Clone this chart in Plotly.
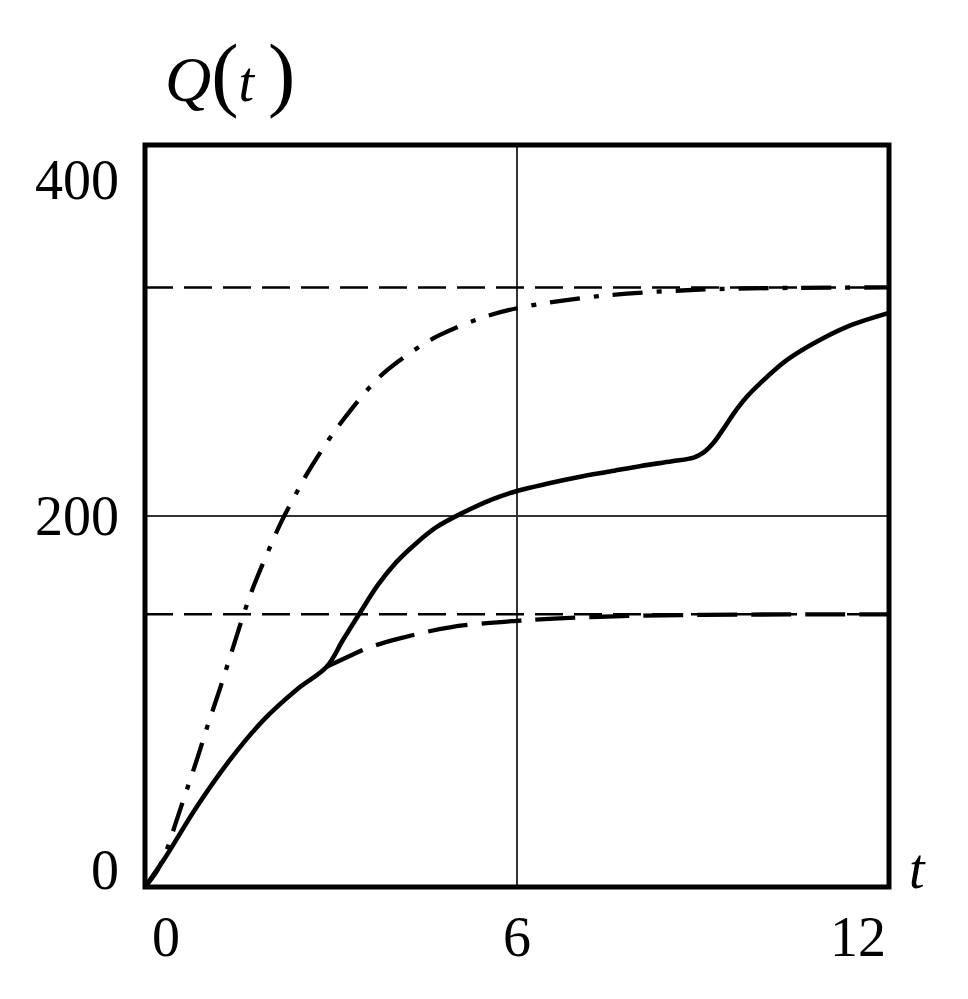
import plotly.graph_objects as go

# ---- data ----
t_solid = [0, 0.3, 0.83, 1.37, 1.91, 2.45, 2.93, 3.19, 3.47, 3.76, 4.05, 4.38, 4.7, 5.08,
           5.6, 6.0, 6.5, 7.0, 7.5, 8.0, 8.5, 8.85, 9.0, 9.17, 9.33, 9.5, 9.7, 9.92,
           10.35, 10.78, 11.32, 12.0]
q_solid = [0, 14.5, 43, 68.5, 90, 106.5, 118.7, 133, 148, 163, 175, 185.5, 194, 201,
           209, 213.5, 217.5, 221, 224, 227, 229.5, 231.5, 234, 239.5, 247, 255.5, 264, 271.5,
           284, 293, 302, 309.5]

t_dash = [2.93, 3.3, 3.57, 4.11, 4.92, 6.0, 7.34, 9.0, 12.0]
q_dash = [118.7, 124.5, 128.6, 134, 140, 143.5, 145.7, 146.7, 147]

t_dashdot = [0, 0.2, 0.35, 0.5, 0.67, 0.85, 1.0, 1.2, 1.4, 1.61, 1.75, 2.0, 2.2, 2.42,
             2.6, 2.96, 3.2, 3.6, 3.9, 4.46, 4.75, 5.4, 6.0, 7.34, 8.95, 10.5, 12.0]
q_dashdot = [0, 9, 20, 35, 52, 70, 86, 106, 127, 149, 162, 182, 197, 211,
             222, 241, 252, 268.5, 278.5, 292, 297.5, 306.5, 312, 318.6, 322, 323, 323.2]

t_span = [0, 12]
q_upper_level = 323.2
q_lower_level = 147

x_ticks = [0, 6, 12]
x_tick_labels = ["0", "6", "12"]
y_ticks = [0, 200, 400]
y_tick_labels = ["0", "200", "400"]

FONT = "Liberation Serif, Times New Roman, serif"

fig = go.Figure()

# asymptote lines
for lvl in (q_upper_level, q_lower_level):
    fig.add_trace(go.Scatter(x=t_span, y=[lvl, lvl], mode="lines",
                             line=dict(color="black", width=2.5, dash="28px,11px"),
                             hoverinfo="skip"))

fig.add_trace(go.Scatter(x=t_dash, y=q_dash, mode="lines",
                         line=dict(color="black", width=4.3, dash="40px,14px", shape="spline"),
                         hoverinfo="skip"))
fig.add_trace(go.Scatter(x=t_dashdot, y=q_dashdot, mode="lines",
                         line=dict(color="black", width=4.3, dash="30px,14px,5px,14px", shape="spline"),
                         hoverinfo="skip"))
fig.add_trace(go.Scatter(x=t_solid, y=q_solid, mode="lines",
                         line=dict(color="black", width=4.6, shape="spline"),
                         hoverinfo="skip"))

fig.update_layout(
    width=968, height=999,
    margin=dict(l=137, r=87, t=137, b=120),
    paper_bgcolor="white", plot_bgcolor="white",
    showlegend=False,
    font=dict(family=FONT, color="black"),
)
fig.update_xaxes(range=[0, 12], tickvals=[6], showticklabels=False, ticks="",
                 showgrid=True, gridcolor="#333", gridwidth=2.2, zeroline=False,
                 showline=False, fixedrange=True)
fig.update_yaxes(range=[0, 400], tickvals=[200], showticklabels=False, ticks="",
                 showgrid=True, gridcolor="#333", gridwidth=2.2, zeroline=False,
                 showline=False, fixedrange=True)

# frame
fig.add_shape(type="rect", xref="x domain", yref="y domain", x0=0, x1=1, y0=0, y1=1,
              line=dict(color="black", width=5), layer="above")

# tick labels
x_shifts = [21, 0, -31]
for v, lab, xs in zip(x_ticks, x_tick_labels, x_shifts):
    fig.add_annotation(x=v, xref="x", y=0, yref="paper", text=lab, showarrow=False,
                       xanchor="center", yanchor="middle", xshift=xs, yshift=-50,
                       font=dict(family=FONT, size=56, color="black"))
y_shifts = [17, 0, -35]
for v, lab, ys in zip(y_ticks, y_tick_labels, y_shifts):
    fig.add_annotation(x=0, xref="paper", y=v, yref="y", text=lab, showarrow=False,
                       xanchor="right", yanchor="middle", xshift=-24, yshift=ys,
                       font=dict(family=FONT, size=56, color="black"))

# axis titles
fig.add_annotation(x=1, xref="paper", y=0, yref="paper", text="<i>t</i>", showarrow=False,
                   xanchor="left", yanchor="middle", xshift=18, yshift=18,
                   font=dict(family=FONT, size=56, color="black"))
fig.add_annotation(x=0, xref="paper", y=1, yref="paper",
                   text=("<i>Q</i><span style='font-size:82px'>(</span>"
                         "<span style='font-size:56px'><i>t</i> </span>"
                         "<span style='font-size:82px'>)</span>"),
                   showarrow=False, xanchor="left", yanchor="middle", xshift=18, yshift=72,
                   font=dict(family=FONT, size=64, color="black"))

fig.write_html("out.html")
